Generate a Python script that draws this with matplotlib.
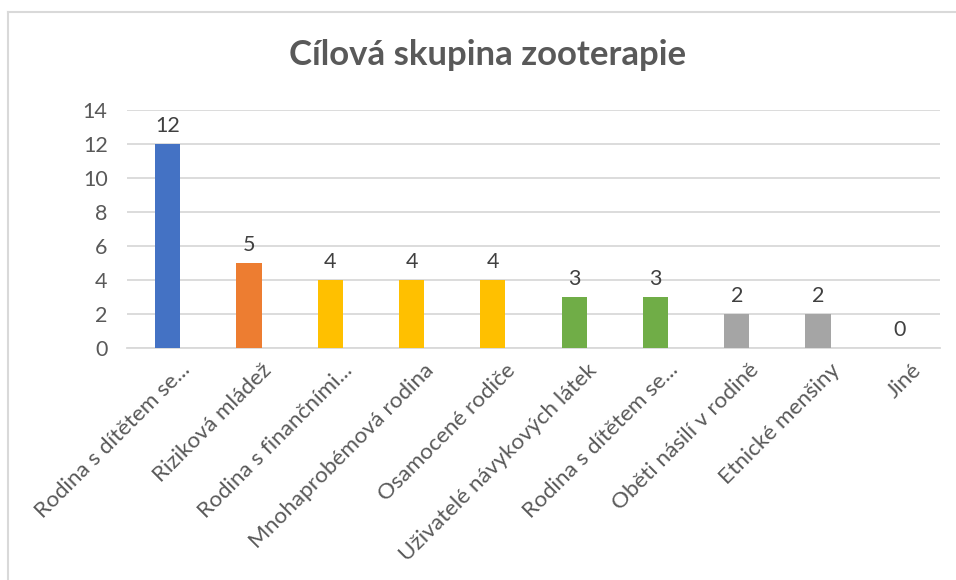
import matplotlib
matplotlib.use("Agg")
import matplotlib.pyplot as plt
from matplotlib.lines import Line2D
from matplotlib.transforms import ScaledTranslation

categories = ["Rodina s dítětem se...", "Riziková mládež", "Rodina s finančními...",
              "Mnohaprobémová rodina", "Osamocené rodiče", "Uživatelé návykových látek",
              "Rodina s dítětem se...", "Oběti násilí v rodině", "Etnické menšiny", "Jiné"]
values = [12, 5, 4, 4, 4, 3, 3, 2, 2, 0]
colors = ["#4472C4", "#ED7D31", "#FFC000", "#FFC000", "#FFC000",
          "#70AD47", "#70AD47", "#A5A5A5", "#A5A5A5", "#A5A5A5"]
yticks = [0, 2, 4, 6, 8, 10, 12, 14]
title = "Cílová skupina zooterapie"

plt.rcParams['font.family'] = ['Lato', 'DejaVu Sans']

fig = plt.figure(figsize=(9.56, 5.8), dpi=100)
ax = fig.add_axes([127/956, 232/580, 813/956, 238/580])

x = list(range(len(categories)))
ax.bar(x, values, width=0.31, color=colors, zorder=3)
ax.set_xlim(-0.5, len(categories) - 0.5)
ax.set_ylim(0, 14)
ax.set_yticks(yticks)
ax.set_yticklabels([str(t) for t in yticks])
ax.grid(axis='y', color='#d9d9d9', linewidth=1.3, zorder=0)
for s in ['top', 'right', 'left']:
    ax.spines[s].set_visible(False)
ax.spines['bottom'].set_color('#d9d9d9')
ax.spines['bottom'].set_linewidth(1.3)
ax.tick_params(axis='both', length=0, colors='#595959', labelsize=15.5)
ax.tick_params(axis='x', labelsize=16.2)
ax.tick_params(axis='y', pad=14)

ax.set_xticks(x)
ax.set_xticklabels(categories, rotation=45, ha='right', va='top', rotation_mode='anchor')
for lbl in ax.get_xticklabels():
    lbl.set_transform(lbl.get_transform() + ScaledTranslation(12/100, -7/100, fig.dpi_scale_trans))

for xi, v in zip(x, values):
    ax.annotate(str(v), (xi, v), xytext=(0, 6), textcoords='offset points',
                ha='center', va='bottom', fontsize=15.5, color='#404040')

fig.text(488/956, 1 - 55/580, title, ha='center', va='center', fontsize=25,
         fontweight='bold', color='#595959')

fig.add_artist(Line2D([8/956, 1], [1 - 12/580, 1 - 12/580], transform=fig.transFigure,
                      color='#d9d9d9', linewidth=1.5))
fig.add_artist(Line2D([8/956, 8/956], [0, 1 - 12/580], transform=fig.transFigure,
                      color='#d9d9d9', linewidth=1.5))

fig.savefig("out.png", dpi=100, facecolor='white')
